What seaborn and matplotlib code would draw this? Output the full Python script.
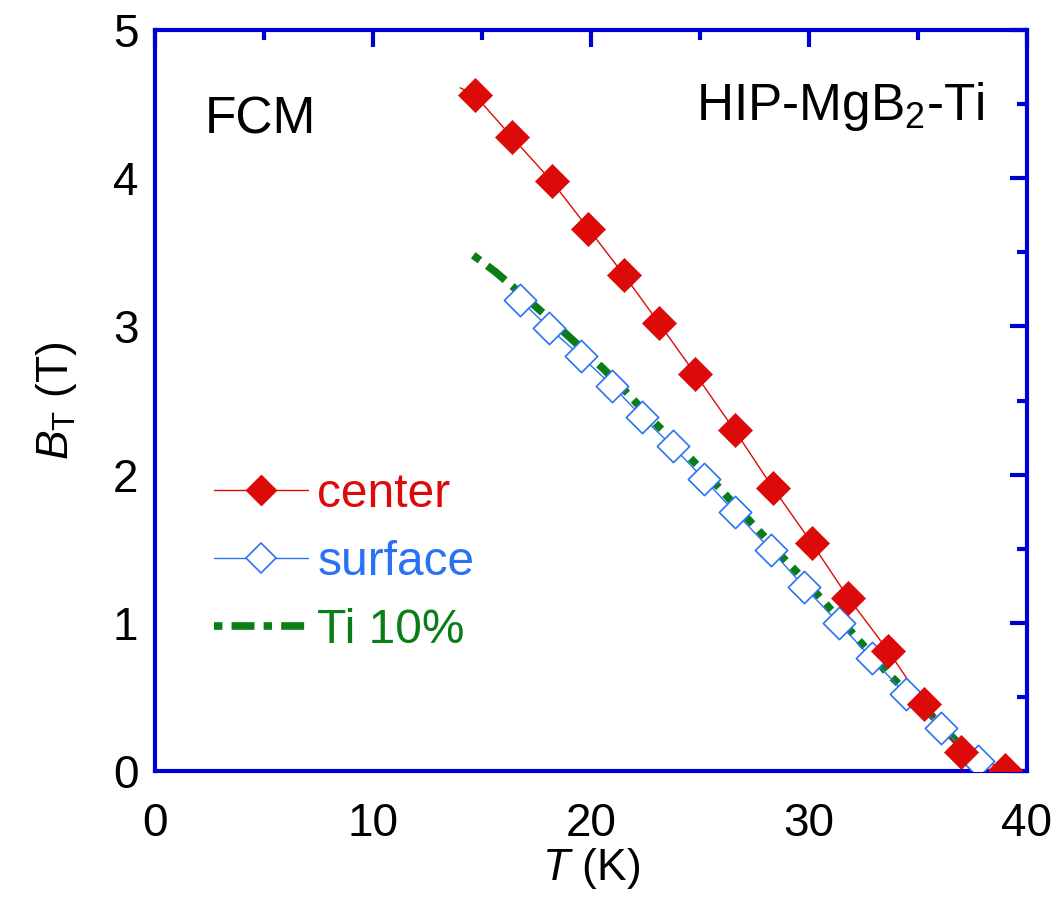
import numpy as np
import pandas as pd
import seaborn as sns
import matplotlib
matplotlib.use("Agg")
import matplotlib.pyplot as plt
from matplotlib.lines import Line2D
from matplotlib.ticker import MultipleLocator

# ---- data ----
center_T = [14.68, 16.36, 18.20, 19.88, 21.50, 23.13, 24.78, 26.59, 28.35, 30.12,
            31.80, 33.64, 35.29, 36.97, 38.99]
center_B = [4.56, 4.28, 3.98, 3.66, 3.35, 3.02, 2.68, 2.30, 1.91, 1.54,
            1.17, 0.81, 0.45, 0.13, 0.01]
center_line_T = [14.0] + center_T
center_line_B = [4.61] + center_B

surface_T = [16.74, 18.07, 19.53, 20.98, 22.34, 23.75, 25.18, 26.59, 28.27, 29.79,
             31.36, 32.88, 34.43, 36.04, 37.74]
surface_B = [3.18, 2.99, 2.80, 2.60, 2.39, 2.19, 1.97, 1.75, 1.49, 1.24,
             1.00, 0.76, 0.52, 0.29, 0.07]

ti_T = [14.6, 15.6, 16.4, 17.5, 19.0, 20.6, 21.6, 23.0, 24.3, 25.7, 26.2, 27.2,
        27.9, 28.8, 29.4, 30.4, 31.0, 32.0, 32.6, 33.6, 35.2, 36.7, 37.4]
ti_B = [3.48, 3.37, 3.27, 3.13, 2.93, 2.71, 2.56, 2.34, 2.15, 1.94, 1.86, 1.70,
        1.59, 1.44, 1.35, 1.19, 1.09, 0.93, 0.83, 0.66, 0.44, 0.21, 0.12]

labels = ["center", "surface", "Ti 10%"]
red = "#DD0A0A"
blue = "#2A72F5"
green = "#0A7D16"
spine_col = "#0000D2"

sns.set_theme(style="white")
plt.rcParams["font.family"] = ["Liberation Sans", "DejaVu Sans"]
plt.rcParams["mathtext.fontset"] = "custom"
plt.rcParams["mathtext.rm"] = "Liberation Sans"
plt.rcParams["mathtext.it"] = "Liberation Sans:italic"
plt.rcParams["mathtext.bf"] = "Liberation Sans:bold"
plt.rcParams["text.color"] = "black"
plt.rcParams["axes.labelcolor"] = "black"

fig = plt.figure(figsize=(10.52, 8.99), dpi=100)
ax = fig.add_axes([0.1473, 0.1424, 0.8289, 0.8242])

ti_dashes = (1.1, 1.2, 3.0, 1.2)

# lines
sns.lineplot(x=ti_T, y=ti_B, ax=ax, color=green, lw=5.5, sort=False,
             estimator=None, dashes=False, zorder=2)
ax.lines[-1].set_dashes(ti_dashes)
sns.lineplot(x=surface_T, y=surface_B, ax=ax, color=blue, lw=1.0, sort=False,
             estimator=None, zorder=3)
sns.lineplot(x=center_line_T, y=center_line_B, ax=ax, color=red, lw=1.0, sort=False,
             estimator=None, zorder=3)

# markers
sns.scatterplot(x=surface_T, y=surface_B, ax=ax, marker="D", s=270,
                facecolor="white", edgecolor=blue, linewidth=1.2, zorder=4)
sns.scatterplot(x=center_T, y=center_B, ax=ax, marker="D", s=300,
                color=red, edgecolor=red, linewidth=0.5, zorder=5)

ax.set_xlim(0, 40)
ax.set_ylim(0, 5)
ax.xaxis.set_major_locator(MultipleLocator(10))
ax.xaxis.set_minor_locator(MultipleLocator(5))
ax.yaxis.set_major_locator(MultipleLocator(1))
ax.yaxis.set_minor_locator(MultipleLocator(0.5))

for sp in ax.spines.values():
    sp.set_color(spine_col)
    sp.set_linewidth(3)
ax.tick_params(which="both", direction="in", top=True, right=True,
               color=spine_col, width=3, labelcolor="black")
ax.tick_params(which="major", length=12, labelsize=33, pad=12)
ax.tick_params(which="minor", length=7)
ax.tick_params(axis="x", which="major", pad=22)

ax.set_xlabel(r"$\mathit{T}$ (K)", fontsize=32, labelpad=0)
ax.set_ylabel(r"$\mathit{B}_{\mathrm{T}}$ (T)", fontsize=32, labelpad=24)

ax.text(0.057, 0.878, "FCM", transform=ax.transAxes, fontsize=37,
        ha="left", va="center", color="black")
ax.text(0.952, 0.878, r"HIP-MgB$_2$-Ti", transform=ax.transAxes, fontsize=37,
        ha="right", va="baseline", color="black")

handles = [
    Line2D([], [], color=red, lw=1.0, marker="D", markersize=15,
           markerfacecolor=red, markeredgecolor=red),
    Line2D([], [], color=blue, lw=1.0, marker="D", markersize=15,
           markerfacecolor="white", markeredgecolor=blue, markeredgewidth=1.2),
    Line2D([], [], color=green, lw=5.5, dashes=ti_dashes),
]
leg = ax.legend(handles, labels, loc="upper left", bbox_to_anchor=(0.068, 0.404),
                frameon=False, fontsize=34.5, handlelength=1.95, handletextpad=0.2,
                labelspacing=0.48, borderpad=0, borderaxespad=0)
for t, c in zip(leg.get_texts(), [red, blue, green]):
    t.set_color(c)

fig.savefig("out.png", dpi=100)
